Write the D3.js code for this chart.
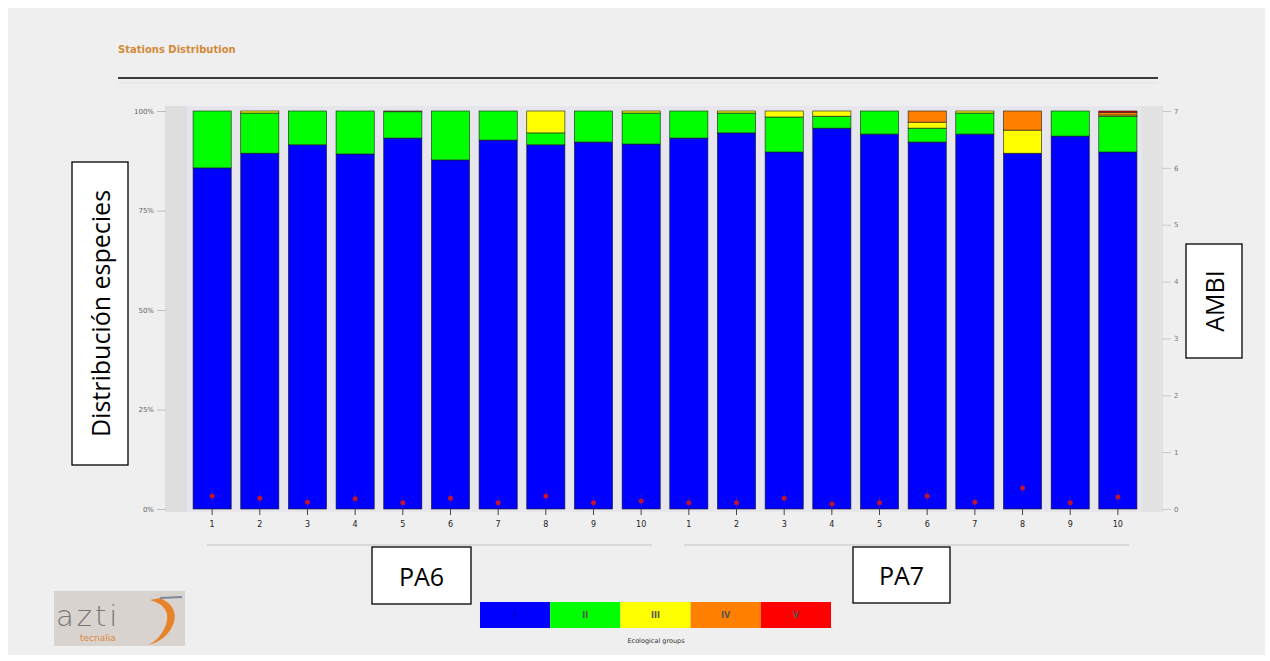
<!DOCTYPE html>
<html>
<head>
<meta charset="utf-8">
<script src="https://cdn.jsdelivr.net/npm/d3@7"></script>
<style>
  body { margin: 0; background: #ffffff; }
  svg { display: block; }
</style>
</head>
<body>
<svg id="chart" width="1270" height="661"></svg>
<script>
// dati
const groups = ['PA6', 'PA7']
const stationNums = ['1', '2', '3', '4', '5', '6', '7', '8', '9', '10']
const ecoGroups = ['I', 'II', 'III', 'IV', 'V']
const ecoColors = ['#0000ff', '#00ff00', '#ffff00', '#ff8000', '#ff0000']
const yTicks = [0, 25, 50, 75, 100]
const ambiTicks = [0, 1, 2, 3, 4, 5, 6, 7]

// percentuali per gruppo ecologico, stazioni PA6 1-10 poi PA7 1-10
const grI   = [85.7, 89.4, 91.5, 89.2, 93.2, 87.7, 92.7, 91.5, 92.2, 91.7, 93.2, 94.5, 89.7, 95.7, 94.2, 92.2, 94.2, 89.4, 93.7, 89.7]
const grII  = [14.3, 10.1, 8.5, 10.8, 6.6, 12.3, 7.3, 3.0, 7.8, 7.8, 6.8, 5.0, 8.8, 3.0, 5.8, 3.5, 5.3, 0, 6.3, 9.0]
const grIII = [0, 0.5, 0, 0, 0.2, 0, 0, 5.5, 0, 0.5, 0, 0.5, 1.5, 1.3, 0, 1.5, 0.5, 5.8, 0, 0.3]
const grIV  = [0, 0, 0, 0, 0, 0, 0, 0, 0, 0, 0, 0, 0, 0, 0, 2.8, 0, 4.8, 0, 0.7]
const grV   = [0, 0, 0, 0, 0, 0, 0, 0, 0, 0, 0, 0, 0, 0, 0, 0, 0, 0, 0, 0.3]
const ambi  = [0.23, 0.19, 0.12, 0.18, 0.11, 0.19, 0.11, 0.23, 0.11, 0.14, 0.11, 0.11, 0.19, 0.09, 0.11, 0.23, 0.12, 0.37, 0.11, 0.21]

const svg = d3.select('#chart')
const font = 'DejaVu Sans, sans-serif'
const boxFont = 'Open Sans, Noto Sans, sans-serif'

// sfondo
svg.append('rect').attr('x', 8).attr('y', 8).attr('width', 1257).attr('height', 647).attr('fill', '#efefef')

// titolo
svg.append('text')
  .attr('x', 118).attr('y', 53)
  .attr('font-family', font).attr('font-size', 10).attr('font-weight', 'bold')
  .attr('fill', '#d4883a')
  .text('Stations Distribution')

svg.append('line').attr('x1', 118).attr('x2', 1158).attr('y1', 78).attr('y2', 78)
  .attr('stroke', '#000').attr('stroke-width', 1.5)
svg.append('line').attr('x1', 118).attr('x2', 1158).attr('y1', 83).attr('y2', 83)
  .attr('stroke', '#e2e2e2').attr('stroke-width', 1)

// tabella delle stazioni
const stations = []
groups.forEach(g => stationNums.forEach(n => stations.push({ group: g, num: n, id: g + '-' + n })))
stations.forEach((s, i) => {
  s.vals = [grI[i], grII[i], grIII[i], grIV[i], grV[i]]
  s.ambi = ambi[i]
})

// scale
const xScale = d3.scaleBand()
  .domain(stations.map(d => d.id))
  .range([188.3, 1141.7])
  .paddingInner(0.2)
  .paddingOuter(0.1)

const yScale = d3.scaleLinear().domain([0, 100]).range([509, 111])
const ambiScale = d3.scaleLinear().domain([0, 7]).range([509, 111])

// area del grafico
svg.append('rect').attr('x', 165).attr('y', 106).attr('width', 998).attr('height', 406).attr('fill', '#e6e6ec')
svg.append('rect').attr('x', 165).attr('y', 106).attr('width', 22).attr('height', 406).attr('fill', '#dedede')
svg.append('rect').attr('x', 1142).attr('y', 106).attr('width', 21).attr('height', 406).attr('fill', '#e2e2e2')

// asse y sinistro
const yAxis = svg.append('g')
  .attr('transform', 'translate(166,0)')
  .call(d3.axisLeft(yScale).tickValues(yTicks).tickSize(9).tickFormat(d => d + '%'))
yAxis.select('path.domain').remove()
yAxis.selectAll('.tick line').attr('stroke', '#bdbdbd')
yAxis.selectAll('.tick text').attr('font-family', font).attr('font-size', 7).attr('fill', '#666')

// asse y destro (AMBI)
const rAxis = svg.append('g')
  .attr('transform', 'translate(1162,0)')
  .call(d3.axisRight(ambiScale).tickValues(ambiTicks).tickSize(9).tickFormat(d3.format('d')))
rAxis.select('path.domain').remove()
rAxis.selectAll('.tick line').attr('stroke', '#c8c8c8')
rAxis.selectAll('.tick text').attr('font-family', font).attr('font-size', 7).attr('fill', '#777')

// barre impilate
const stackGen = d3.stack().keys([0, 1, 2, 3, 4]).value((d, k) => d.vals[k])
const series = stackGen(stations)

svg.append('g')
  .selectAll('g')
  .data(series)
  .join('g')
  .attr('fill', (d, i) => ecoColors[i])
  .selectAll('rect')
  .data(d => d.map((v, i) => ({ v, s: stations[i] })))
  .join('rect')
  .attr('x', d => xScale(d.s.id))
  .attr('width', xScale.bandwidth())
  .attr('y', d => yScale(d.v[1]))
  .attr('height', d => Math.max(0, yScale(d.v[0]) - yScale(d.v[1])))
  .attr('stroke', d => (d.v[1] - d.v[0]) > 0 ? '#1a1a1a' : 'none')
  .attr('stroke-width', 0.6)

// punti AMBI
const marks = svg.append('g')
marks.selectAll('line')
  .data(stations)
  .join('line')
  .attr('x1', d => xScale(d.id) + xScale.bandwidth() / 2)
  .attr('x2', d => xScale(d.id) + xScale.bandwidth() / 2)
  .attr('y1', d => ambiScale(d.ambi) - 7)
  .attr('y2', d => ambiScale(d.ambi) + 7)
  .attr('stroke', '#6a2a7a').attr('stroke-width', 0.7).attr('opacity', 0.6)
marks.selectAll('circle')
  .data(stations)
  .join('circle')
  .attr('cx', d => xScale(d.id) + xScale.bandwidth() / 2)
  .attr('cy', d => ambiScale(d.ambi))
  .attr('r', 2.5)
  .attr('fill', '#c0142e')

// asse x
const xAxis = svg.append('g')
  .attr('transform', 'translate(0,509)')
  .call(d3.axisBottom(xScale).tickSize(6).tickFormat(id => id.split('-')[1]))
xAxis.select('path.domain').remove()
xAxis.selectAll('.tick line').attr('stroke', '#444')
xAxis.selectAll('.tick text').attr('font-family', font).attr('font-size', 8).attr('fill', '#222').attr('dy', '1.1em')

// linee dei gruppi
groups.forEach(g => {
  const first = xScale(g + '-' + stationNums[0])
  const last = xScale(g + '-' + stationNums[stationNums.length - 1])
  svg.append('line')
    .attr('x1', first + 14).attr('x2', last + xScale.bandwidth() - 8)
    .attr('y1', 545).attr('y2', 545)
    .attr('stroke', '#d2d2d2').attr('stroke-width', 1.5)
})

// riquadri di testo
function textBox(x, y, w, h, label, rotate) {
  svg.append('rect').attr('x', x).attr('y', y).attr('width', w).attr('height', h)
    .attr('fill', '#fff').attr('stroke', '#000').attr('stroke-width', 1.3)
  const t = svg.append('text')
    .attr('font-family', boxFont).attr('font-size', 25).attr('fill', '#000')
    .attr('text-anchor', 'middle').attr('dominant-baseline', 'central')
    .text(label)
  if (rotate) {
    t.attr('transform', `translate(${x + w / 2},${y + h / 2}) rotate(-90)`)
  } else {
    t.attr('x', x + w / 2).attr('y', y + h / 2)
  }
}
textBox(372, 547, 99, 57, 'PA6', false)
textBox(853, 547, 97, 56, 'PA7', false)
textBox(72, 162, 56, 303, 'Distribución especies', true)
textBox(1186, 244, 56, 114, 'AMBI', true)

// legenda
const legX = d3.scaleBand().domain(ecoGroups).range([480, 831])
const leg = svg.append('g')
leg.selectAll('rect')
  .data(ecoGroups)
  .join('rect')
  .attr('x', d => legX(d)).attr('y', 602)
  .attr('width', legX.bandwidth()).attr('height', 26)
  .attr('fill', (d, i) => ecoColors[i])
leg.selectAll('text')
  .data(ecoGroups)
  .join('text')
  .attr('x', d => legX(d) + legX.bandwidth() / 2).attr('y', 618)
  .attr('text-anchor', 'middle')
  .attr('font-family', font).attr('font-size', 8).attr('font-weight', 'bold')
  .attr('fill', (d, i) => i === 0 ? '#0000cc' : '#555')
  .text(d => d)
svg.append('text')
  .attr('x', 656).attr('y', 643).attr('text-anchor', 'middle')
  .attr('font-family', font).attr('font-size', 6.5).attr('fill', '#333')
  .text('Ecological groups')

// logo
svg.append('rect').attr('x', 54).attr('y', 591).attr('width', 131).attr('height', 55).attr('fill', '#d8d3cf')
svg.append('text').attr('x', 56).attr('y', 626)
  .attr('font-family', 'DejaVu Sans, sans-serif').attr('font-size', 29).attr('font-weight', 300)
  .attr('letter-spacing', 3).attr('fill', '#777')
  .text('azti')
svg.append('text').attr('x', 80).attr('y', 641)
  .attr('font-family', font).attr('font-size', 9).attr('fill', '#e0873a')
  .text('tecnalia')
svg.append('path')
  .attr('d', 'M150,600 Q172,606 166,625 Q160,640 148,645 Q168,640 174,622 Q178,606 160,598 Z')
  .attr('fill', '#e8822a')
svg.append('line').attr('x1', 160).attr('x2', 182).attr('y1', 598).attr('y2', 597)
  .attr('stroke', '#7a8a9a').attr('stroke-width', 2)
</script>
</body>
</html>
